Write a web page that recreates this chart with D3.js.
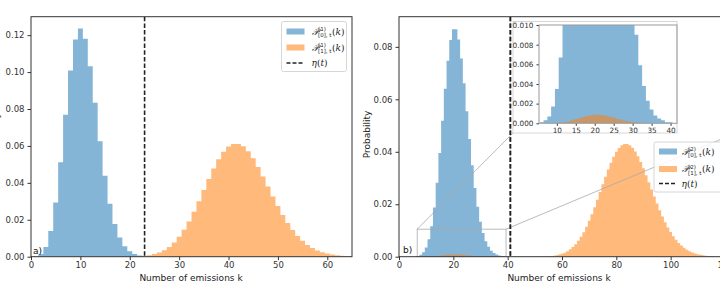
<!DOCTYPE html>
<html>
<head>
<meta charset="utf-8">
<script src="https://cdn.jsdelivr.net/npm/d3@7"></script>
<style>
  body { margin: 0; background: #fff; }
  svg { display: block; font-family: "DejaVu Sans", sans-serif; }
</style>
</head>
<body>
<div id="chart"></div>
<script>
// Data: probabilities per number of emissions k
const blueAStart = 1;
const blueA = [0.0003, 0.0015, 0.0053, 0.0139, 0.0293, 0.0512, 0.0769, 0.1009, 0.1177, 0.1236,
    0.1180, 0.1032, 0.0834, 0.0625, 0.0438, 0.0287, 0.0177, 0.0104, 0.0057, 0.0030, 0.0015, 0.0007];

const orangeAStart = 22;
const orangeA = [0.0003, 0.0005, 0.0008, 0.0014, 0.0023, 0.0035, 0.0053, 0.0077, 0.0108, 0.0146,
    0.0191, 0.0244, 0.0301, 0.0361, 0.0421, 0.0478, 0.0528, 0.0569, 0.0597, 0.0610,
    0.0610, 0.0598, 0.0571, 0.0533, 0.0486, 0.0435, 0.0380, 0.0326, 0.0274, 0.0226,
    0.0182, 0.0144, 0.0112, 0.0086, 0.0064, 0.0047, 0.0034, 0.0024, 0.0017, 0.0012,
    0.0008, 0.0005, 0.0004, 0.0002];

const blueBStart = 6;
const blueB = [0.0001, 0.0003, 0.0007, 0.0017, 0.0035, 0.0067, 0.0116, 0.0188, 0.0282, 0.0395,
    0.0518, 0.0640, 0.0747, 0.0826, 0.0867, 0.0867, 0.0828, 0.0756, 0.0661, 0.0555,
    0.0449, 0.0349, 0.0262, 0.0190, 0.0133, 0.0090, 0.0059, 0.0038, 0.0023, 0.0014,
    0.0008, 0.0005, 0.0003, 0.0001, 0.0001];

// orange in b) has a tiny bump under the blue one (see inset) and the main bump
const orangeBLowStart = 10;
const orangeBLow = [0.00003, 0.00007, 0.00012, 0.00019, 0.00028, 0.00040, 0.00052, 0.00064, 0.00075, 0.00083,
    0.00087, 0.00087, 0.00083, 0.00076, 0.00066, 0.00056, 0.00045, 0.00035, 0.00026, 0.00019,
    0.00013, 0.00009, 0.00006, 0.00004];

const orangeBHighStart = 52;
const orangeBHigh = [0.00005, 0.00008, 0.00012, 0.00018, 0.00027, 0.00039, 0.00057, 0.00081, 0.00113, 0.00155,
    0.00210, 0.00280, 0.00368, 0.00475, 0.00605, 0.00758, 0.00936, 0.01139, 0.01367, 0.01617,
    0.01886, 0.02170, 0.02463, 0.02759, 0.03050, 0.03327, 0.03583, 0.03810, 0.04000, 0.04148,
    0.04249, 0.04300, 0.04300, 0.04249, 0.04150, 0.04007, 0.03825, 0.03610, 0.03369, 0.03110,
    0.02840, 0.02565, 0.02292, 0.02027, 0.01774, 0.01536, 0.01317, 0.01117, 0.00938, 0.00780,
    0.00643, 0.00524, 0.00423, 0.00339, 0.00268, 0.00211, 0.00164, 0.00126, 0.00096, 0.00073,
    0.00055, 0.00041, 0.00030, 0.00022, 0.00016, 0.00012, 0.00008, 0.00006, 0.00004];

// thresholds eta(t)
const etaA = 23;
const etaB = 41;

// ticks
const xTicksA = [0, 10, 20, 30, 40, 50, 60];
const yTicksA = [0, 0.02, 0.04, 0.06, 0.08, 0.10, 0.12];
const xTicksB = [0, 20, 40, 60, 80, 100, 120];
const yTicksB = [0, 0.02, 0.04, 0.06, 0.08];
const xTicksInset = [10, 15, 20, 25, 30, 35, 40];
const yTicksInset = [0, 0.002, 0.004, 0.006, 0.008, 0.010];

// zoomed window shown in the inset
const zoomK = [6.7, 39.4];
const zoomP = 0.0105;

const W = 720, H = 293;
const BLUE = "#1f77b4", ORANGE = "#ff7f0e", ALPHA = 0.55;

const svg = d3.select("#chart").append("svg")
    .attr("width", W)
    .attr("height", H);

const defs = svg.append("defs");

function steps(start, vals) {
    const pts = vals.map((v, i) => ({k: start + i - 0.5, v}));
    pts.push({k: start + vals.length - 0.5, v: vals[vals.length - 1]});
    return pts;
}

function drawHist(g, x, y, start, vals, color) {
    const area = d3.area()
        .curve(d3.curveStepAfter)
        .x(d => x(d.k))
        .y0(y(0))
        .y1(d => y(d.v));
    g.append("path")
        .datum(steps(start, vals))
        .attr("d", area)
        .attr("fill", color)
        .attr("fill-opacity", ALPHA);
}

function panel(id, box, xDom, yDom, xTicks, yTicks, yFmt, tickSize, fontSize, frameColor) {
    const x = d3.scaleLinear().domain(xDom).range([box.x0, box.x1]);
    const y = d3.scaleLinear().domain(yDom).range([box.y1, box.y0]);

    defs.append("clipPath").attr("id", id)
        .append("rect")
        .attr("x", box.x0).attr("y", box.y0)
        .attr("width", box.x1 - box.x0).attr("height", box.y1 - box.y0);

    const plot = svg.append("g").attr("clip-path", `url(#${id})`);

    const xAxis = svg.append("g")
        .attr("transform", `translate(0,${box.y1})`)
        .call(d3.axisBottom(x).tickValues(xTicks).tickFormat(d3.format("d"))
            .tickSize(tickSize).tickPadding(2));
    const yAxis = svg.append("g")
        .attr("transform", `translate(${box.x0},0)`)
        .call(d3.axisLeft(y).tickValues(yTicks).tickFormat(d3.format(yFmt))
            .tickSize(tickSize).tickPadding(3));
    [xAxis, yAxis].forEach(a => {
        a.select(".domain").remove();
        a.selectAll("line").attr("stroke", "#333");
        a.selectAll("text").attr("fill", "#333").attr("font-size", fontSize)
            .attr("font-family", "DejaVu Sans");
    });

    return {x, y, plot, box, frame: () => svg.append("rect")
        .attr("x", box.x0).attr("y", box.y0)
        .attr("width", box.x1 - box.x0).attr("height", box.y1 - box.y0)
        .attr("fill", "none").attr("stroke", frameColor).attr("stroke-width", 1)};
}

// legend label like P^{(1)}_{[0],t}(k)
function pLabel(g, x, y, sup, sub) {
    const t = g.append("text").attr("x", x).attr("y", y)
        .attr("font-size", 9).attr("font-family", "DejaVu Serif").attr("font-style", "italic")
        .attr("fill", "#222").text("𝒫");
    const pw = t.node().getComputedTextLength();
    const s1 = g.append("text").attr("x", x + pw + 0.5).attr("y", y - 3.5)
        .attr("font-size", 5.5).attr("fill", "#222").text(sup);
    const s2 = g.append("text").attr("x", x + pw + 0.5).attr("y", y + 2.5)
        .attr("font-size", 5.5).attr("fill", "#222").text(sub);
    const w = Math.max(s1.node().getComputedTextLength(), s2.node().getComputedTextLength());
    const tail = g.append("text").attr("x", x + pw + w + 1).attr("y", y)
        .attr("font-size", 9).attr("font-family", "DejaVu Serif").attr("fill", "#222");
    tail.append("tspan").text("(");
    tail.append("tspan").attr("font-style", "italic").text("k");
    tail.append("tspan").text(")");
}

function legend(box, rows, sup) {
    const g = svg.append("g");
    g.append("rect")
        .attr("x", box.x).attr("y", box.y).attr("width", box.w).attr("height", box.h)
        .attr("rx", 2).attr("fill", "#fff").attr("fill-opacity", 0.85)
        .attr("stroke", "#ccc").attr("stroke-width", 0.8);
    const px = box.x + 5, tx = box.x + box.tx;
    g.append("rect").attr("x", px).attr("y", rows[0] - 3).attr("width", 18).attr("height", 6)
        .attr("fill", BLUE).attr("fill-opacity", ALPHA);
    pLabel(g, tx, rows[0] + 3, sup, "[0], t");
    g.append("rect").attr("x", px).attr("y", rows[1] - 3).attr("width", 18).attr("height", 6)
        .attr("fill", ORANGE).attr("fill-opacity", ALPHA);
    pLabel(g, tx, rows[1] + 3, sup, "[1], t");
    g.append("line").attr("x1", px).attr("x2", px + 18).attr("y1", rows[2]).attr("y2", rows[2])
        .attr("stroke", "#222").attr("stroke-width", 1.6).attr("stroke-dasharray", "4,2");
    const e = g.append("text").attr("x", tx).attr("y", rows[2] + 3)
        .attr("font-size", 9).attr("font-family", "DejaVu Serif").attr("fill", "#222");
    e.append("tspan").attr("font-style", "italic").text("η");
    e.append("tspan").text("(");
    e.append("tspan").attr("font-style", "italic").text("t");
    e.append("tspan").text(")");
}

function etaLine(p, eta) {
    p.plot.append("line")
        .attr("x1", p.x(eta)).attr("x2", p.x(eta))
        .attr("y1", p.box.y0).attr("y2", p.box.y1)
        .attr("stroke", "#222").attr("stroke-width", 1.6)
        .attr("stroke-dasharray", "4.5,2.2");
}

function yLabel(x, y) {
    svg.append("text")
        .attr("transform", `translate(${x},${y}) rotate(-90)`)
        .attr("text-anchor", "middle").attr("font-size", 9).attr("fill", "#222")
        .text("Probability");
}

// ---- panel a)
const pa = panel("clipA", {x0: 31, x1: 352, y0: 16.7, y1: 256.7}, [0, 65], [0, 0.13],
    xTicksA, yTicksA, ".2f", 3.5, 8.5, "#333");
drawHist(pa.plot, pa.x, pa.y, blueAStart, blueA, BLUE);
drawHist(pa.plot, pa.x, pa.y, orangeAStart, orangeA, ORANGE);
etaLine(pa, etaA);
pa.frame();
svg.append("text").attr("x", 33).attr("y", 254).attr("font-size", 9).attr("fill", "#111").text("a)");
svg.append("text").attr("x", 191).attr("y", 281).attr("text-anchor", "middle")
    .attr("font-size", 9).attr("fill", "#222").text("Number of emissions k");
// left label sits mostly outside the picture, as in the source figure
yLabel(-1, 136.7);
legend({x: 281.5, y: 21.5, w: 65, h: 50, tx: 30}, [31.5, 47.5, 63], "(1)");

// ---- panel b)
const pb = panel("clipB", {x0: 399, x1: 725, y0: 16.7, y1: 256.7}, [0, 120], [0, 0.0915],
    xTicksB, yTicksB, ".2f", 3.5, 8.5, "#333");
drawHist(pb.plot, pb.x, pb.y, blueBStart, blueB, BLUE);
drawHist(pb.plot, pb.x, pb.y, orangeBLowStart, orangeBLow, ORANGE);
drawHist(pb.plot, pb.x, pb.y, orangeBHighStart, orangeBHigh, ORANGE);
etaLine(pb, etaB);

// zoom rectangle + connectors
const zx0 = pb.x(zoomK[0]), zx1 = pb.x(zoomK[1]), zy = pb.y(zoomP);
pb.plot.append("rect")
    .attr("x", zx0).attr("y", zy).attr("width", zx1 - zx0).attr("height", pb.y(0) - zy)
    .attr("fill", "none").attr("stroke", "#aaa").attr("stroke-width", 0.8);
pb.plot.append("line").attr("x1", zx0).attr("y1", zy).attr("x2", 513).attr("y2", 133)
    .attr("stroke", "#aaa").attr("stroke-width", 0.8);
pb.plot.append("line").attr("x1", zx1).attr("y1", zy).attr("x2", 760).attr("y2", 123)
    .attr("stroke", "#aaa").attr("stroke-width", 0.8);
pb.frame();

svg.append("text").attr("x", 403).attr("y", 253).attr("font-size", 9).attr("fill", "#111").text("b)");
svg.append("text").attr("x", 559).attr("y", 281).attr("text-anchor", "middle")
    .attr("font-size", 9).attr("fill", "#222").text("Number of emissions k");
yLabel(370, 134.5);
legend({x: 654, y: 142, w: 75, h: 50, tx: 27.5}, [151.5, 169, 183.5], "(2)");

// ---- inset
svg.append("rect").attr("x", 513).attr("y", 21.5).attr("width", 164).attr("height", 111.5)
    .attr("fill", "#fff").attr("stroke", "#ccc").attr("stroke-width", 0.8);
const pi = panel("clipI", {x0: 539, x1: 677, y0: 25, y1: 123.3}, [5.3, 41.7], [0, 0.010],
    xTicksInset, yTicksInset, ".3f", 2.5, 7.3, "#999");
drawHist(pi.plot, pi.x, pi.y, blueBStart, blueB, BLUE);
drawHist(pi.plot, pi.x, pi.y, orangeBLowStart, orangeBLow, ORANGE);
pi.frame();
// the eta line of panel b runs over the inset's left frame
etaLine(pb, etaB);
</script>
</body>
</html>
